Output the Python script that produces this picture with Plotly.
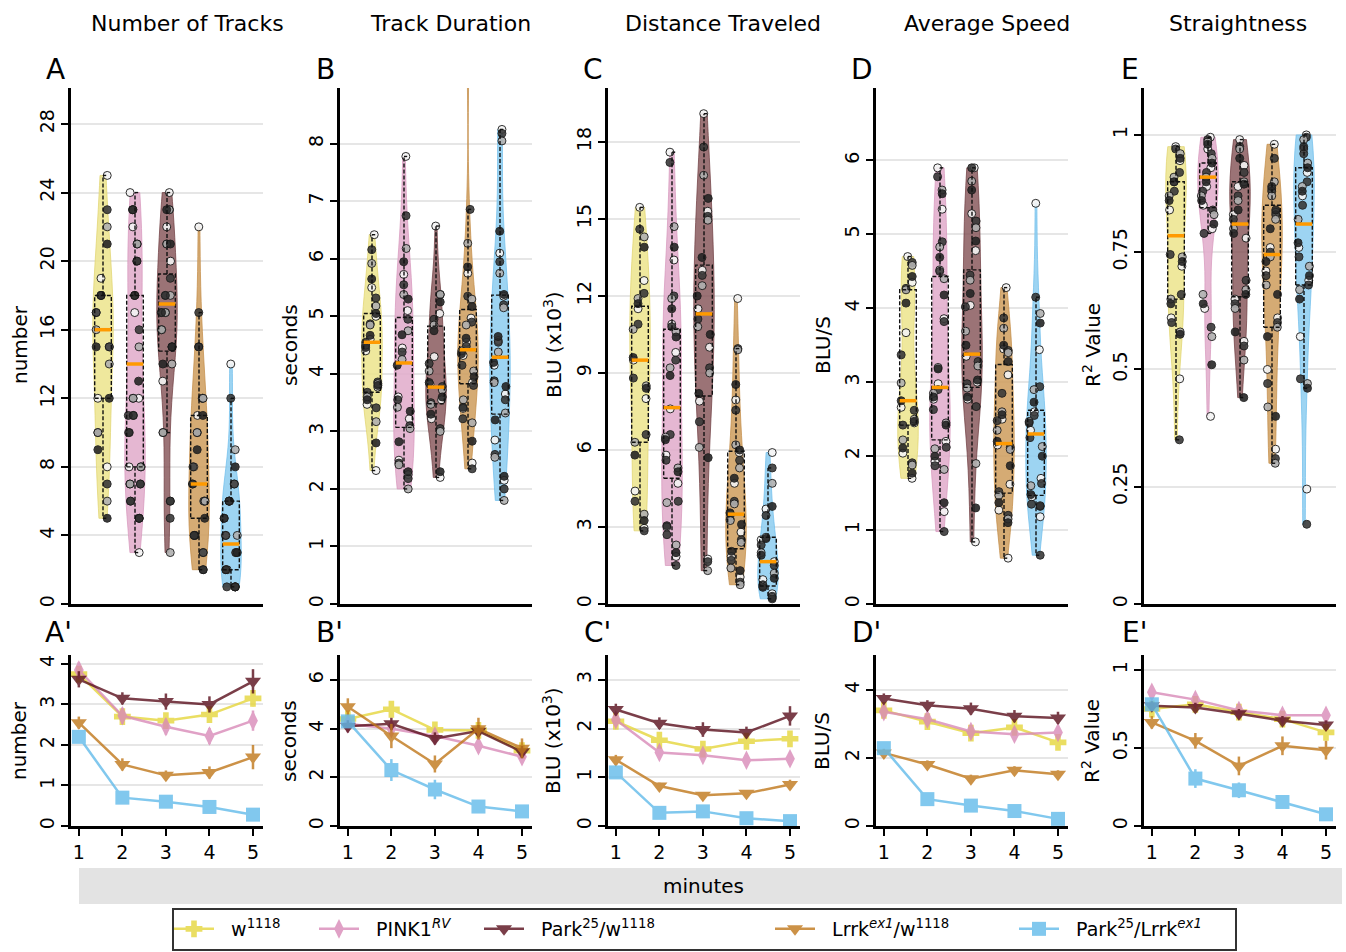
import plotly.graph_objects as go

# ---------------- data ----------------
groups = ["w1118", "PINK1RV", "Park25/w1118", "Lrrkex1/w1118", "Park25/Lrrkex1"]
legend_labels = ["w<sup>1118</sup>", "PINK1<sup><i>RV</i></sup>", "Park<sup>25</sup>/w<sup>1118</sup>",
                 "Lrrk<sup><i>ex1</i></sup>/w<sup>1118</sup>", "Park<sup>25</sup>/Lrrk<sup><i>ex1</i></sup>"]
panel_titles = ["Number of Tracks", "Track Duration", "Distance Traveled", "Average Speed", "Straightness"]
y_titles = ["number", "seconds", "BLU (x10<sup>3</sup>)", "BLU/S", "R<sup>2</sup> Value"]
panel_letters = ["A", "B", "C", "D", "E"]
minutes = [1, 2, 3, 4, 5]

# Number of tracks (per animal)
tracks_w1118 = [25, 23, 22, 21, 19, 18, 18, 18, 17, 17, 16, 15, 15, 15, 14, 12, 12, 10, 10, 9, 8, 7, 6, 5]
tracks_pink1 = [24, 23, 23, 23, 22, 21, 21, 20, 20, 18, 18, 18, 17, 16, 15, 13, 12, 12, 12, 11, 11, 11, 10, 10,
                8, 8, 8, 7, 7, 7, 7, 6, 6, 5, 5, 5, 3]
tracks_park_w = [24, 23, 23, 23, 22, 21, 21, 21, 20, 19, 18, 18, 18, 17, 17, 17, 17, 16, 16, 15, 15, 15, 14, 14,
                 13, 10, 10, 6, 6, 5, 3]
tracks_lrrk_w = [22, 17, 15, 15, 12, 12, 12, 11, 11, 10, 10, 9, 8, 8, 7, 7, 6, 6, 6, 5, 4, 4, 4, 4, 3, 3, 2, 2]
tracks_park_lrrk = [14, 12, 9, 8, 7, 7, 6, 6, 6, 6, 5, 5, 4, 4, 4, 3, 3, 3, 2, 2, 2, 1, 1, 1, 1, 1]
tracks_q1 = [12, 8, 14.75, 5, 2]
tracks_med = [16, 14, 17.5, 7, 3.5]
tracks_q3 = [18, 18, 19.25, 11, 6]
tracks_lo = [5, 3, 10, 2, 1]
tracks_hi = [25, 24, 24, 17, 12]

# Track duration (seconds)
dur_w1118 = [6.42, 6.16, 5.92, 5.65, 5.5, 5.32, 5.18, 5.05, 5.0, 4.87, 4.85, 4.67, 4.6, 4.55, 4.5, 4.46, 4.4,
             3.86, 3.83, 3.8, 3.77, 3.68, 3.6, 3.55, 3.47, 3.41, 3.17, 2.8, 2.32]
dur_pink1 = [7.78, 6.75, 6.18, 5.95, 5.73, 5.55, 5.38, 5.3, 5.1, 4.95, 4.75, 4.68, 4.45, 4.38, 4.25, 4.15, 3.6,
             3.55, 3.42, 3.35, 3.22, 3.1, 3.05, 2.82, 2.5, 2.45, 2.42, 2.3, 2.25, 2.18, 2.0]
dur_park_w = [6.57, 5.38, 5.38, 5.25, 5.05, 4.95, 4.85, 4.75, 4.3, 4.18, 4.05, 3.85, 3.82, 3.78, 3.72, 3.6, 3.55,
              3.5, 3.47, 3.3, 3.22, 3.05, 3.0, 2.3, 2.2]
dur_lrrk_w = [9.4, 6.86, 6.27, 5.86, 5.75, 5.35, 5.3, 5.17, 4.97, 4.9, 4.85, 4.62, 4.55, 4.48, 4.4, 4.35, 4.32,
              4.15, 4.05, 3.95, 3.85, 3.8, 3.55, 3.42, 3.4, 3.22, 3.15, 2.83, 2.45, 2.35]
dur_park_lrrk = [8.25, 8.18, 8.05, 6.48, 6.1, 5.95, 5.75, 5.38, 5.35, 5.2, 5.15, 4.65, 4.58, 4.55, 4.38, 4.2,
                 4.15, 3.88, 3.85, 3.78, 3.65, 3.55, 3.32, 3.2, 2.85, 2.6, 2.55, 2.22, 2.15, 2.0, 1.8]
dur_q1 = [3.68, 3.07, 3.48, 3.83, 3.3]
dur_med = [4.55, 4.19, 3.77, 4.42, 4.29]
dur_q3 = [5.05, 4.98, 4.83, 5.12, 5.37]
dur_lo = [2.32, 2.0, 2.2, 2.35, 1.8]
dur_hi = [6.42, 7.78, 6.57, 6.86, 8.25]

# Distance traveled (BLU x10^3)
dist_w1118 = [15.45, 14.6, 14.3, 13.9, 12.6, 12.1, 11.9, 11.7, 11.5, 10.9, 10.7, 9.6, 9.5, 8.8, 8.5, 8.4, 8.0,
              6.6, 6.3, 5.8, 4.4, 4.0, 3.5, 3.25, 2.95, 2.85]
dist_pink1 = [17.6, 17.2, 14.7, 13.9, 13.4, 12.0, 11.9, 11.5, 10.9, 10.8, 10.6, 10.4, 9.8, 9.5, 9.2, 8.9, 7.6,
              6.6, 6.5, 6.4, 5.8, 5.6, 5.3, 5.15, 4.7, 4.0, 3.95, 3.05, 3.0, 2.7, 2.3, 2.0, 1.85, 1.5]
dist_park_w = [19.1, 17.8, 16.7, 15.8, 15.3, 15.1, 14.95, 13.5, 13.0, 12.8, 12.4, 12.0, 11.5, 11.1, 10.8, 10.5,
               10.0, 9.2, 9.0, 8.2, 7.9, 7.1, 6.1, 5.7, 1.75, 1.65, 1.3]
dist_lrrk_w = [11.9, 9.95, 9.9, 8.55, 7.95, 7.55, 6.2, 6.0, 5.9, 5.6, 5.3, 4.9, 4.7, 4.0, 3.9, 3.55, 3.5, 3.3,
               3.25, 3.1, 2.8, 2.5, 2.4, 2.05, 1.85, 1.7, 1.4, 1.3, 1.05, 0.85, 0.75]
dist_park_lrrk = [5.9, 5.3, 4.7, 3.8, 3.7, 3.45, 2.6, 2.55, 2.5, 2.3, 2.0, 1.9, 1.65, 1.5, 1.2, 1.0, 0.95, 0.75,
                  0.7, 0.65, 0.4, 0.3, 0.25, 0.2]
dist_q1 = [6.3, 4.9, 8.1, 2.15, 0.7]
dist_med = [9.5, 7.65, 11.3, 3.5, 1.65]
dist_q3 = [11.6, 10.7, 13.2, 5.95, 2.6]
dist_lo = [2.85, 1.5, 1.3, 0.75, 0.2]
dist_hi = [15.45, 17.6, 19.1, 9.95, 5.3]

# Average speed (BLU/S)
speed_w1118 = [4.7, 4.62, 4.58, 4.43, 4.35, 4.27, 4.25, 4.07, 3.67, 3.37, 2.99, 2.75, 2.66, 2.62, 2.5, 2.47,
               2.45, 2.42, 2.22, 2.11, 2.04, 1.91, 1.88, 1.77, 1.7]
speed_pink1 = [5.9, 5.78, 5.6, 5.55, 5.34, 4.9, 4.83, 4.69, 4.52, 4.5, 4.4, 4.18, 3.86, 3.82, 3.2, 3.18, 2.98,
               2.9, 2.85, 2.8, 2.77, 2.63, 2.45, 2.42, 2.2, 2.12, 2.1, 2.0, 1.93, 1.87, 1.82, 1.37, 1.25, 0.98]
speed_park_w = [5.9, 5.9, 5.72, 5.6, 5.28, 5.18, 5.09, 4.91, 4.78, 4.45, 4.38, 4.2, 4.04, 4.02, 3.69, 3.5, 3.35,
                3.28, 3.22, 3.03, 3.0, 2.98, 2.92, 2.8, 2.77, 2.67, 1.9, 1.3, 0.84]
speed_lrrk_w = [4.28, 3.87, 3.73, 3.5, 3.45, 3.43, 3.4, 3.28, 3.1, 2.85, 2.6, 2.56, 2.5, 2.48, 2.35, 2.2, 2.15,
                2.12, 2.09, 1.87, 1.62, 1.52, 1.47, 1.37, 1.27, 1.2, 1.15, 1.1, 0.62]
speed_park_lrrk = [5.42, 4.15, 3.93, 3.8, 3.44, 2.94, 2.9, 2.73, 2.6, 2.55, 2.47, 2.45, 2.35, 2.25, 2.13, 2.0,
                   1.7, 1.63, 1.6, 1.48, 1.45, 1.35, 1.33, 1.32, 1.18, 0.66]
speed_q1 = [2.42, 2.22, 2.93, 1.5, 1.47]
speed_med = [2.75, 2.93, 3.38, 2.17, 2.3]
speed_q3 = [4.25, 4.43, 4.52, 3.24, 2.62]
speed_lo = [1.7, 0.98, 0.84, 0.62, 0.66]
speed_hi = [4.7, 5.9, 5.9, 4.28, 4.15]

# Straightness (R^2)
straight_w1118 = [0.975, 0.97, 0.96, 0.95, 0.945, 0.92, 0.91, 0.9, 0.9, 0.88, 0.87, 0.86, 0.84, 0.745, 0.74,
                  0.73, 0.72, 0.66, 0.65, 0.64, 0.61, 0.6, 0.58, 0.575, 0.48, 0.35]
straight_pink1 = [0.995, 0.99, 0.985, 0.98, 0.97, 0.96, 0.95, 0.94, 0.93, 0.92, 0.91, 0.9, 0.89, 0.88, 0.87,
                  0.86, 0.85, 0.84, 0.83, 0.81, 0.8, 0.79, 0.66, 0.64, 0.63, 0.59, 0.57, 0.51, 0.4]
straight_park_w = [0.99, 0.975, 0.97, 0.95, 0.935, 0.92, 0.9, 0.895, 0.89, 0.87, 0.86, 0.84, 0.83, 0.82, 0.8,
                   0.79, 0.78, 0.69, 0.67, 0.66, 0.65, 0.64, 0.63, 0.58, 0.56, 0.55, 0.52, 0.44]
straight_lrrk_w = [0.98, 0.95, 0.9, 0.89, 0.885, 0.88, 0.87, 0.84, 0.835, 0.83, 0.82, 0.8, 0.76, 0.75, 0.74,
                   0.73, 0.71, 0.7, 0.68, 0.66, 0.61, 0.6, 0.59, 0.57, 0.5, 0.47, 0.42, 0.4, 0.33, 0.31, 0.3]
straight_park_lrrk = [1.0, 0.995, 0.99, 0.975, 0.97, 0.96, 0.94, 0.93, 0.92, 0.9, 0.89, 0.88, 0.87, 0.85, 0.82,
                      0.77, 0.76, 0.74, 0.72, 0.7, 0.69, 0.68, 0.67, 0.65, 0.57, 0.48, 0.47, 0.46, 0.245, 0.17]
straight_q1 = [0.65, 0.845, 0.655, 0.59, 0.68]
straight_med = [0.785, 0.91, 0.81, 0.745, 0.81]
straight_q3 = [0.9, 0.94, 0.9, 0.85, 0.93]
straight_lo = [0.35, 0.79, 0.44, 0.3, 0.46]
straight_hi = [0.975, 0.995, 0.99, 0.98, 1.0]

# Per-minute means and errors
tracks_min = [[3.75, 2.7, 2.6, 2.75, 3.15], [3.85, 2.72, 2.45, 2.22, 2.6], [3.62, 3.15, 3.07, 3.0, 3.57],
              [2.55, 1.52, 1.25, 1.32, 1.7], [2.2, 0.7, 0.6, 0.47, 0.28]]
tracks_min_err = [[0.15, 0.15, 0.15, 0.2, 0.2], [0.2, 0.2, 0.2, 0.2, 0.25], [0.2, 0.15, 0.2, 0.2, 0.3],
                  [0.15, 0.15, 0.12, 0.15, 0.3], [0.15, 0.08, 0.08, 0.08, 0.06]]
dur_min = [[4.4, 4.8, 3.95, 3.93, 3.1], [4.2, 4.0, 3.7, 3.3, 2.85], [4.1, 4.2, 3.6, 3.9, 3.05],
           [4.9, 3.7, 2.55, 4.0, 3.2], [4.3, 2.3, 1.5, 0.8, 0.6]]
dur_min_err = [[0.2, 0.2, 0.2, 0.2, 0.2], [0.2, 0.25, 0.25, 0.3, 0.25], [0.25, 0.25, 0.25, 0.25, 0.25],
               [0.35, 0.5, 0.35, 0.45, 0.4], [0.2, 0.45, 0.4, 0.2, 0.15]]
dist_min = [[2.15, 1.76, 1.58, 1.74, 1.79], [2.18, 1.51, 1.45, 1.35, 1.38], [2.39, 2.11, 1.98, 1.92, 2.26],
            [1.36, 0.82, 0.63, 0.67, 0.85], [1.1, 0.27, 0.3, 0.16, 0.1]]
dist_min_err = [[0.1, 0.12, 0.1, 0.12, 0.15], [0.1, 0.12, 0.12, 0.13, 0.12], [0.12, 0.12, 0.15, 0.12, 0.2],
                [0.1, 0.07, 0.06, 0.06, 0.1], [0.1, 0.05, 0.05, 0.04, 0.03]]
speed_min = [[3.4, 3.07, 2.73, 2.9, 2.46], [3.36, 3.14, 2.78, 2.7, 2.75], [3.75, 3.55, 3.45, 3.23, 3.18],
             [2.15, 1.81, 1.39, 1.64, 1.52], [2.29, 0.79, 0.6, 0.44, 0.21]]
speed_min_err = [[0.12, 0.12, 0.15, 0.15, 0.2], [0.12, 0.15, 0.15, 0.18, 0.15], [0.15, 0.15, 0.18, 0.18, 0.18],
                 [0.12, 0.12, 0.12, 0.12, 0.12], [0.1, 0.08, 0.08, 0.07, 0.05]]
straight_min = [[0.75, 0.78, 0.73, 0.685, 0.6], [0.857, 0.81, 0.74, 0.71, 0.71], [0.77, 0.76, 0.72, 0.675, 0.647],
                [0.664, 0.546, 0.385, 0.514, 0.486], [0.78, 0.304, 0.229, 0.154, 0.075]]
straight_min_err = [[0.03, 0.03, 0.03, 0.03, 0.04], [0.03, 0.03, 0.03, 0.03, 0.03], [0.03, 0.03, 0.03, 0.03, 0.03],
                    [0.04, 0.05, 0.06, 0.06, 0.06], [0.03, 0.06, 0.05, 0.03, 0.02]]

# ---------------- styles ----------------
FONT = "DejaVu Sans"
line_colors = ["#E6D63C", "#D98AB8", "#5A0F1C", "#C0771A", "#62BBEA"]
violin_fills = ["rgba(236,228,140,0.85)", "rgba(224,170,202,0.85)", "rgba(130,80,84,0.8)",
                "rgba(206,156,92,0.85)", "rgba(140,205,240,0.85)"]
violin_lines = ["rgba(225,212,110,0.9)", "rgba(214,150,188,0.9)", "rgba(110,60,64,0.9)",
                "rgba(195,140,70,0.9)", "rgba(110,190,235,0.9)"]
symbols = ["cross", "diamond-tall", "triangle-down", "triangle-down", "square"]
point_shades = ["#f4f4f4", "#3a3a3a", "#b0b0b0", "#262626"]

top_data = [
    [tracks_w1118, tracks_pink1, tracks_park_w, tracks_lrrk_w, tracks_park_lrrk],
    [dur_w1118, dur_pink1, dur_park_w, dur_lrrk_w, dur_park_lrrk],
    [dist_w1118, dist_pink1, dist_park_w, dist_lrrk_w, dist_park_lrrk],
    [speed_w1118, speed_pink1, speed_park_w, speed_lrrk_w, speed_park_lrrk],
    [straight_w1118, straight_pink1, straight_park_w, straight_lrrk_w, straight_park_lrrk],
]
top_stats = [
    (tracks_q1, tracks_med, tracks_q3, tracks_lo, tracks_hi),
    (dur_q1, dur_med, dur_q3, dur_lo, dur_hi),
    (dist_q1, dist_med, dist_q3, dist_lo, dist_hi),
    (speed_q1, speed_med, speed_q3, speed_lo, speed_hi),
    (straight_q1, straight_med, straight_q3, straight_lo, straight_hi),
]
bottom_data = [(tracks_min, tracks_min_err), (dur_min, dur_min_err), (dist_min, dist_min_err),
               (speed_min, speed_min_err), (straight_min, straight_min_err)]

top_ranges = [[0, 30.1], [0, 8.97], [0, 20.1], [0, 6.98], [0, 1.1]]
top_dticks = [4, 1, 3, 1, 0.25]
bot_ranges = [[0, 4.22], [0, 7.03], [0, 3.51], [0, 5.03], [0, 1.096]]
bot_dticks = [1, 2, 1, 2, 0.5]

W, H = 1346, 952


def px(x):
    return x / W


def py(y):
    return 1 - y / H


fig = go.Figure()

BOX_HALF = 0.26
CAP = 0.1
for k in range(5):
    xa, ya = f"x{k + 1}", f"y{k + 1}"
    for g in range(5):
        fig.add_trace(go.Violin(
            y=top_data[k][g], x0=g, xaxis=xa, yaxis=ya, width=0.64, spanmode="hard",
            points=False, fillcolor=violin_fills[g], line=dict(color=violin_lines[g], width=0.8),
            showlegend=False, hoverinfo="skip", name=groups[g]))
    for g in range(5):
        vals = top_data[k][g]
        for s in range(4):
            fig.add_trace(go.Box(
                y=vals[s::4], x0=g, xaxis=xa, yaxis=ya, boxpoints="all", jitter=0.9, pointpos=0,
                width=0.56, fillcolor="rgba(0,0,0,0)", line=dict(width=0, color="rgba(0,0,0,0)"),
                marker=dict(size=8, color=point_shades[s], opacity=0.9,
                            line=dict(color="#1a1a1a", width=1)),
                showlegend=False, hoverinfo="skip", name=groups[g]))
    q1, med, q3, lo, hi = top_stats[k]
    bx, by = [], []
    for g in range(5):
        bx += [g - BOX_HALF, g + BOX_HALF, g + BOX_HALF, g - BOX_HALF, g - BOX_HALF, None,
               g, g, None, g, g, None, g, g + CAP, None, g, g + CAP, None]
        by += [q1[g], q1[g], q3[g], q3[g], q1[g], None,
               q3[g], hi[g], None, q1[g], lo[g], None, hi[g], hi[g], None, lo[g], lo[g], None]
    fig.add_trace(go.Scatter(x=bx, y=by, xaxis=xa, yaxis=ya, mode="lines",
                             line=dict(color="#111111", width=1.4, dash="4px,2px"),
                             showlegend=False, hoverinfo="skip"))
    mx, my = [], []
    for g in range(5):
        mx += [g - BOX_HALF, g + BOX_HALF, None]
        my += [med[g], med[g], None]
    fig.add_trace(go.Scatter(x=mx, y=my, xaxis=xa, yaxis=ya, mode="lines",
                             line=dict(color="#FF9A00", width=3.5),
                             showlegend=False, hoverinfo="skip"))

NBSP = "\u00a0\u00a0"
for k in range(5):
    xa, ya = f"x{k + 6}", f"y{k + 6}"
    means, errs = bottom_data[k]
    for g in range(5):
        fig.add_trace(go.Scatter(
            x=minutes, y=means[g], xaxis=xa, yaxis=ya, mode="lines+markers",
            error_y=dict(type="data", array=errs[g], color=line_colors[g], thickness=2.5, width=0),
            line=dict(color=line_colors[g], width=2.5),
            marker=dict(symbol=symbols[g], size=14, color=line_colors[g], line=dict(width=0)),
            opacity=0.8, name=NBSP + legend_labels[g],
            showlegend=(k == 0), legend=("legend" if g == 0 else f"legend{g + 1}"),
            hoverinfo="skip"))

layout = dict(
    width=W, height=H, autosize=False,
    margin=dict(l=0, r=0, t=0, b=0, pad=0),
    paper_bgcolor="white", plot_bgcolor="white",
    font=dict(family=FONT, color="black", size=19),
    violinmode="overlay", boxmode="overlay",
)

top_lefts = [71, 340, 608, 876, 1144]
PW = 192
axis_common = dict(showline=True, linecolor="black", linewidth=2.5, zeroline=False, automargin=False)
for k in range(5):
    xd = [px(top_lefts[k]), px(top_lefts[k] + PW)]
    layout[f"xaxis{k + 1}"] = dict(domain=xd, anchor=f"y{k + 1}", range=[-1, 5], showgrid=False,
                                   showticklabels=False, ticks="", **axis_common)
    layout[f"yaxis{k + 1}"] = dict(domain=[py(604), py(88)], anchor=f"x{k + 1}", range=top_ranges[k],
                                   tick0=0, dtick=top_dticks[k], ticks="outside", ticklen=7, tickwidth=2,
                                   tickcolor="black", tickangle=-90, tickfont=dict(size=19),
                                   showgrid=True, gridcolor="#e6e6e6", gridwidth=2, **axis_common)
    layout[f"xaxis{k + 6}"] = dict(domain=xd, anchor=f"y{k + 6}", range=[0.82, 5.23], showgrid=False,
                                   tickvals=minutes, ticks="outside", ticklen=7, tickwidth=2,
                                   tickcolor="black", tickfont=dict(size=19), **axis_common)
    layout[f"yaxis{k + 6}"] = dict(domain=[py(826), py(655)], anchor=f"x{k + 6}", range=bot_ranges[k],
                                   tick0=0, dtick=bot_dticks[k], ticks="outside", ticklen=7, tickwidth=2,
                                   tickcolor="black", tickangle=-90, tickfont=dict(size=19),
                                   showgrid=True, gridcolor="#e6e6e6", gridwidth=2, **axis_common)

legend_sym_x = [197, 342, 507, 798, 1042]
for g in range(5):
    key = "legend" if g == 0 else f"legend{g + 1}"
    layout[key] = dict(x=px(legend_sym_x[g] - 28), y=py(929), xanchor="left", yanchor="middle",
                       orientation="h", bgcolor="rgba(0,0,0,0)", borderwidth=0, itemwidth=40,
                       font=dict(size=19, family=FONT))

annotations = []
title_x = [187, 451, 723, 987, 1238]
for k in range(5):
    annotations.append(dict(text=panel_titles[k], x=px(title_x[k]), y=py(23), xref="paper", yref="paper",
                            showarrow=False, font=dict(size=22), xanchor="center", yanchor="middle"))
letter_x = [55, 325, 593, 862, 1130]
for k in range(5):
    annotations.append(dict(text=panel_letters[k], x=px(letter_x[k]), y=py(70), xref="paper", yref="paper",
                            showarrow=False, font=dict(size=28), xanchor="center", yanchor="middle"))
    annotations.append(dict(text=panel_letters[k] + "'", x=px(letter_x[k] + 4), y=py(632), xref="paper",
                            yref="paper", showarrow=False, font=dict(size=28), xanchor="center",
                            yanchor="middle"))
ytitle_x = [20, 290, 553, 823, 1092]
for k in range(5):
    annotations.append(dict(text=y_titles[k], x=px(ytitle_x[k]), y=py(345), xref="paper", yref="paper",
                            showarrow=False, textangle=-90, font=dict(size=20), xanchor="center",
                            yanchor="middle"))
    annotations.append(dict(text=y_titles[k], x=px(ytitle_x[k] - 1), y=py(741), xref="paper", yref="paper",
                            showarrow=False, textangle=-90, font=dict(size=20), xanchor="center",
                            yanchor="middle"))
annotations.append(dict(text="minutes", x=px(703), y=py(886), xref="paper", yref="paper", showarrow=False,
                        font=dict(size=20), xanchor="center", yanchor="middle"))
layout["annotations"] = annotations

layout["shapes"] = [
    dict(type="rect", xref="paper", yref="paper", x0=px(79), x1=px(1342), y0=py(904), y1=py(868),
         fillcolor="#e3e3e3", line=dict(width=0), layer="below"),
    dict(type="rect", xref="paper", yref="paper", x0=px(173), x1=px(1236), y0=py(950), y1=py(909),
         fillcolor="rgba(0,0,0,0)", line=dict(color="#333333", width=2)),
]

fig.update_layout(**layout)
fig.write_html("out.html", config={"displayModeBar": False},
               post_script="document.body.style.margin='0';document.body.style.overflow='hidden';")
